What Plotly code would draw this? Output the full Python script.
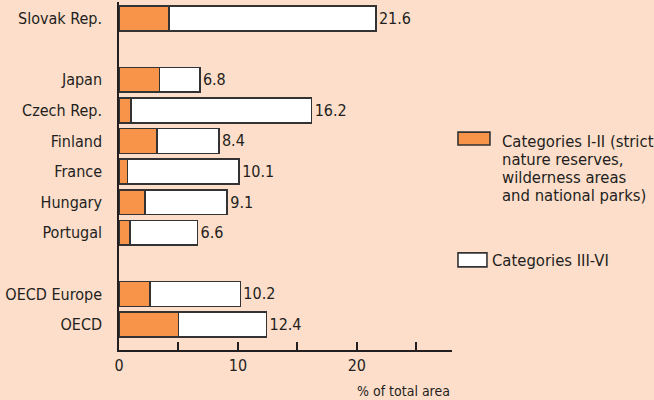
import plotly.graph_objects as go

categories = ["Slovak Rep.", " ", "Japan", "Czech Rep.", "Finland", "France",
              "Hungary", "Portugal", "  ", "OECD Europe", "OECD"]
cat_1_2 = [4.2, None, 3.4, 1.0, 3.2, 0.7, 2.2, 0.9, None, 2.6, 5.0]
total = [21.6, None, 6.8, 16.2, 8.4, 10.1, 9.1, 6.6, None, 10.2, 12.4]
cat_3_6 = [None if t is None else round(t - a, 2) for t, a in zip(total, cat_1_2)]
total_labels = ["" if t is None else f"{t:.1f}" for t in total]
legend_lines_1 = ["Categories I-II (strict", "nature reserves,",
                  "wilderness areas", "and national parks)"]
legend_name_2 = "Categories III-VI"

FONT = "DejaVu Sans Condensed, Liberation Sans Narrow, Arial Narrow, sans-serif"
BG = "#FDDECB"
ORANGE = "#F7944A"
DARK = "#231F20"
EDGE = "#333333"

fig = go.Figure()
fig.add_trace(go.Bar(
    y=categories, x=cat_1_2, orientation="h", name=" ".join(legend_lines_1),
    marker=dict(color=ORANGE, line=dict(color=EDGE, width=1.6)),
))
fig.add_trace(go.Bar(
    y=categories, x=cat_3_6, orientation="h", name=legend_name_2,
    marker=dict(color="white", line=dict(color=EDGE, width=1.6)),
    text=total_labels, textposition="outside", cliponaxis=False,
    textfont=dict(size=16, color=DARK, family=FONT),
))

# manual legend (boxes + labels) placed to the right of the plot
shapes = [
    dict(type="rect", xref="paper", yref="paper", x0=1.018, x1=1.114, y0=0.589, y1=0.626,
         fillcolor=ORANGE, line=dict(color=EDGE, width=1.6)),
    dict(type="rect", xref="paper", yref="paper", x0=1.018, x1=1.105, y0=0.239, y1=0.279,
         fillcolor="white", line=dict(color=EDGE, width=1.6)),
]
legend_font = dict(size=16.5, family=FONT, color=DARK)
line_y = [0.598, 0.547, 0.496, 0.445]
annotations = [
    dict(text=t, xref="paper", yref="paper", x=1.144, y=yy,
         xanchor="left", yanchor="middle", align="left", showarrow=False,
         font=legend_font)
    for t, yy in zip(legend_lines_1, line_y)
]
annotations += [
    dict(text=legend_name_2, xref="paper", yref="paper", x=1.114, y=0.257,
         xanchor="left", yanchor="middle", align="left", showarrow=False,
         font=legend_font),
    dict(text="% of total area", xref="paper", yref="paper",
         x=1.0, y=-0.118, xanchor="right", yanchor="middle",
         showarrow=False, font=dict(size=14, family=FONT, color=DARK)),
]

fig.update_layout(
    width=654, height=400,
    barmode="stack", bargap=0.19,
    paper_bgcolor=BG, plot_bgcolor=BG,
    margin=dict(l=119, r=202, t=2, b=50),
    font=dict(family=FONT, color=DARK, size=15),
    showlegend=False,
    shapes=shapes, annotations=annotations,
    xaxis=dict(range=[0, 28], showgrid=False, zeroline=False,
               showline=True, linecolor=DARK, linewidth=1.5,
               tickvals=[0, 5, 10, 15, 20, 25],
               ticktext=["0", "", "10", "", "20", ""],
               ticks="inside", ticklen=8, tickcolor=DARK, tickwidth=1.5,
               tickfont=dict(size=16, family=FONT, color=DARK)),
    yaxis=dict(autorange=False, range=[10.83, -0.54], showgrid=False,
               showline=True, linecolor=DARK, linewidth=1.5,
               ticks="", ticklabelstandoff=12,
               tickfont=dict(size=16, family=FONT, color=DARK)),
)

fig.write_html("out.html")
